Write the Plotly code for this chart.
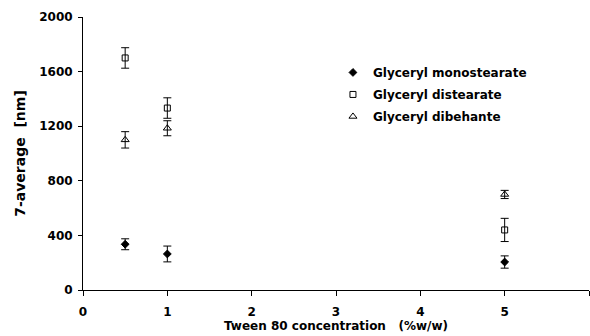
import plotly.graph_objects as go

conc = [0.5, 1, 5]
series_names = ["Glyceryl monostearate", "Glyceryl distearate", "Glyceryl dibehante"]
mono = [335, 264, 205]
mono_err = [40, 58, 45]
dist = [1700, 1333, 440]
dist_err = [75, 75, 85]
dibe = [1100, 1185, 700]
dibe_err = [60, 55, 30]

x_ticks = [0, 1, 2, 3, 4, 5, 6]
y_ticks = [0, 400, 800, 1200, 1600, 2000]

FONT = "DejaVu Sans"

fig = go.Figure()
styles = [
    dict(symbol="diamond", size=6, color="black", line=dict(color="black", width=1)),
    dict(symbol="square-open", size=6, color="black", line=dict(color="black", width=1)),
    dict(symbol="triangle-up-open", size=7, color="black", line=dict(color="black", width=1)),
]
for i, (name, vals, errs, mk) in enumerate(zip(series_names, [mono, dist, dibe], [mono_err, dist_err, dibe_err], styles)):
    fig.add_trace(go.Scatter(
        x=conc, y=vals, mode="markers", name=name, marker=mk, legendgroup=f"g{i}",
        error_y=dict(type="data", array=errs, visible=True, color="black", thickness=1, width=4),
    ))

fig.update_layout(
    width=590, height=336,
    margin=dict(l=83, r=1, t=17, b=46),
    paper_bgcolor="white", plot_bgcolor="white",
    font=dict(family=FONT, size=12, color="black"),
    showlegend=True,
    legend=dict(x=0.494, y=0.85, xanchor="left", yanchor="top", traceorder="grouped",
                font=dict(family=FONT, size=12, color="black", weight="bold"),
                bgcolor="rgba(0,0,0,0)", itemwidth=30, tracegroupgap=3),
    xaxis=dict(range=[0, 6], tickvals=x_ticks, ticktext=[str(v) for v in x_ticks],
               showgrid=False, zeroline=False, showline=True, linecolor="black", linewidth=1,
               ticks="outside", ticklen=5, tickcolor="black", ticklabelstandoff=6,
               tickfont=dict(family=FONT, size=12, weight="bold"),
               title=dict(text="Tween 80 concentration   (%w/w)",
                          font=dict(family=FONT, size=12, weight="bold"), standoff=2)),
    yaxis=dict(range=[0, 2000], tickvals=y_ticks, ticktext=[str(v) for v in y_ticks],
               showgrid=False, zeroline=False, showline=True, linecolor="black", linewidth=1,
               ticks="outside", ticklen=4, tickcolor="black", ticklabelstandoff=3,
               tickfont=dict(family=FONT, size=12, weight="bold"),
               title=dict(text="7-average  [nm]",
                          font=dict(family=FONT, size=14, weight="bold"), standoff=10)),
)

fig.write_html("out.html")
